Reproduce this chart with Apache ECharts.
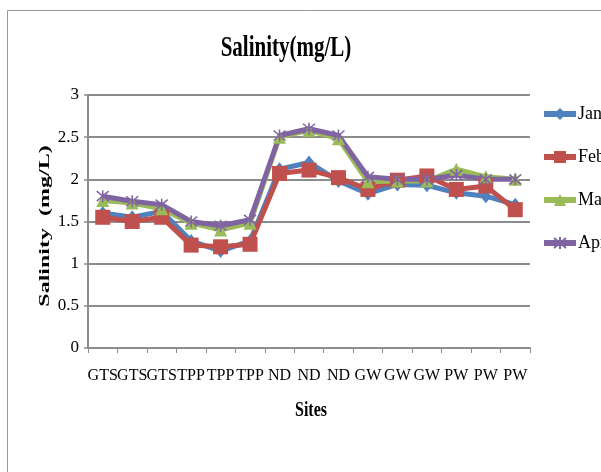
<!DOCTYPE html>
<html>
<head>
<meta charset="utf-8">
<script src="https://cdn.jsdelivr.net/npm/echarts@6/dist/echarts.min.js"></script>
<style>
  html, body { margin: 0; padding: 0; background: #fff; }
  #chart { width: 601px; height: 472px; }
</style>
</head>
<body>
<div id="chart"></div>
<script>
// Sampling sites along the x axis
const sites = ['GTS', 'GTS', 'GTS', 'TPP', 'TPP', 'TPP', 'ND', 'ND', 'ND', 'GW', 'GW', 'GW', 'PW', 'PW', 'PW'];

// Monthly salinity readings (mg/L)
const jan = [1.60, 1.55, 1.62, 1.27, 1.15, 1.27, 2.12, 2.20, 1.98, 1.83, 1.94, 1.93, 1.84, 1.80, 1.70];
const feb = [1.55, 1.50, 1.55, 1.22, 1.20, 1.23, 2.07, 2.11, 2.02, 1.88, 1.99, 2.04, 1.88, 1.92, 1.64];
const mar = [1.75, 1.72, 1.65, 1.48, 1.40, 1.48, 2.50, 2.58, 2.48, 1.97, 1.98, 1.98, 2.12, 2.03, 2.00];
const apr = [1.80, 1.74, 1.70, 1.50, 1.45, 1.52, 2.52, 2.60, 2.52, 2.03, 2.00, 2.00, 2.05, 2.00, 2.00];

const FONT = '"Liberation Serif", "Times New Roman", serif';
const GRID_GRAY = '#8c8c8c';

const chart = echarts.init(document.getElementById('chart'), null, { renderer: 'canvas' });

function lineSeries(name, data, color, symbol, size, extraItemStyle) {
  return {
    name: name,
    type: 'line',
    data: data,
    symbol: symbol,
    symbolSize: size,
    lineStyle: { color: color, width: 5 },
    itemStyle: Object.assign({ color: color }, extraItemStyle || {}),
    emphasis: { disabled: true },
    animation: false
  };
}

chart.setOption({
  backgroundColor: '#fff',
  animation: false,
  grid: { left: 88, right: 71, top: 95, bottom: 124, containLabel: false },
  legend: {
    orient: 'vertical',
    left: 536,
    top: 99,
    itemWidth: 32,
    itemHeight: 15,
    itemGap: 23,
    lineStyle: { width: 6 },
    textStyle: { fontFamily: FONT, fontSize: 18, color: '#000', lineHeight: 20, padding: [0, 0, 0, -3] },
    data: ['Jan', 'Feb', 'Mar', 'Apr']
  },
  xAxis: {
    type: 'category',
    data: sites,
    boundaryGap: true,
    axisLine: { lineStyle: { color: GRID_GRAY, width: 2 } },
    axisTick: { show: true, length: 5, lineStyle: { color: GRID_GRAY, width: 1 } },
    axisLabel: { interval: 0, fontFamily: FONT, fontSize: 16, color: '#000', margin: 20 },
    splitLine: { show: false }
  },
  yAxis: {
    type: 'value',
    min: 0,
    max: 3,
    interval: 0.5,
    axisLine: { show: true, lineStyle: { color: GRID_GRAY, width: 2 } },
    axisTick: { show: true, length: 4, lineStyle: { color: GRID_GRAY, width: 1.5 } },
    axisLabel: { fontFamily: FONT, fontSize: 17, color: '#000', margin: 9 },
    splitLine: { lineStyle: { color: GRID_GRAY, width: 2 } }
  },
  graphic: [
    {
      // chart frame
      type: 'rect',
      shape: { x: 7.5, y: 10.5, width: 700, height: 600 },
      style: { fill: 'none', stroke: '#9a9a9a', lineWidth: 1 },
      silent: true
    },
    {
      type: 'text',
      x: 286, y: 48,
      scaleY: 1.4,
      style: {
        text: 'Salinity(mg/L)',
        font: 'bold 21px ' + FONT,
        fill: '#000',
        align: 'center',
        verticalAlign: 'middle'
      }
    },
    {
      type: 'text',
      x: 311, y: 410,
      scaleY: 1.35,
      style: {
        text: 'Sites',
        font: 'bold 16px ' + FONT,
        fill: '#000',
        align: 'center',
        verticalAlign: 'middle'
      }
    },
    {
      type: 'text',
      x: 45, y: 226,
      rotation: Math.PI / 2,
      scaleX: 1.6,
      style: {
        text: 'Salinity  (mg/L)',
        font: 'bold 15px ' + FONT,
        fill: '#000',
        align: 'center',
        verticalAlign: 'middle'
      }
    }
  ],
  series: [
    lineSeries('Jan', jan, '#4F81BD', 'diamond', [11, 14]),
    lineSeries('Feb', feb, '#C0504D', 'rect', 15),
    lineSeries('Mar', mar, '#9BBB59', 'triangle', 13),
    lineSeries('Apr', apr, '#8064A2', 'path://M0,0L10,10M10,0L0,10M5,-1L5,11', 12,
      { borderColor: '#8064A2', borderWidth: 1.5 })
  ]
});
</script>
</body>
</html>
